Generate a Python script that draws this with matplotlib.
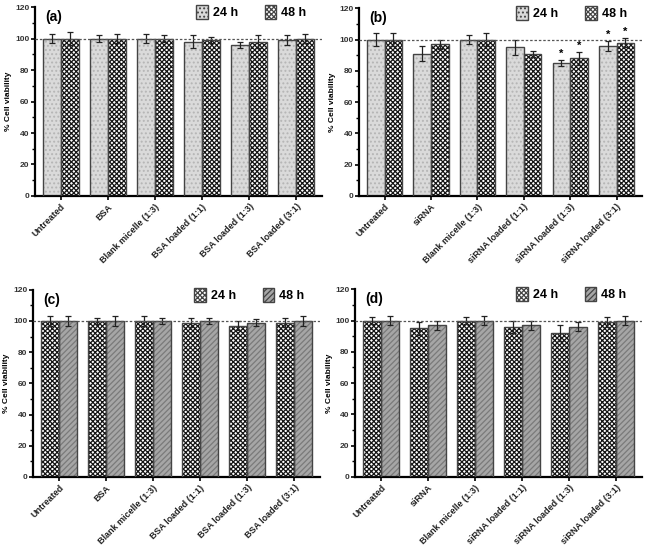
import numpy as np
import matplotlib
matplotlib.use("Agg")
import matplotlib.pyplot as plt
from matplotlib.patches import Patch
from matplotlib.ticker import MultipleLocator

plt.rcParams['font.family'] = ['Liberation Sans', 'DejaVu Sans']
plt.rcParams['hatch.linewidth'] = 0.9

# data
labels_bsa = ["Untreated", "BSA", "Blank micelle (1:3)", "BSA loaded (1:1)",
              "BSA loaded (1:3)", "BSA loaded (3:1)"]
labels_sirna = ["Untreated", "siRNA", "Blank micelle (1:3)", "siRNA loaded (1:1)",
                "siRNA loaded (1:3)", "siRNA loaded (3:1)"]

a_24 = [100, 100, 100, 98, 96, 99]
a_24_err = [3, 2, 3, 4, 2, 3]
a_48 = [100, 100, 100, 99, 98, 100]
a_48_err = [4, 3, 2, 2, 4, 3]

b_24 = [100, 91, 100, 95, 85, 96]
b_24_err = [4, 5, 3, 5, 2, 3]
b_48 = [100, 97, 100, 91, 88, 98]
b_48_err = [4, 3, 4, 2, 4, 3]
b_star_24 = [False, False, False, False, True, True]
b_star_48 = [False, False, False, False, True, True]

c_24 = [100, 100, 100, 99, 97, 99]
c_24_err = [3, 2, 3, 3, 3, 3]
c_48 = [100, 100, 100, 100, 99, 100]
c_48_err = [3, 3, 2, 2, 2, 3]

d_24 = [100, 95, 100, 96, 92, 99]
d_24_err = [2, 4, 2, 4, 5, 3]
d_48 = [100, 97, 100, 97, 96, 100]
d_48_err = [3, 3, 3, 3, 3, 3]

# styles: (facecolor, hatch colour, hatch)
dotted = ('#dadada', '#b5b5b5', '....')
checker = ('#ffffff', '#151515', 'xxxxxxx')
striped = ('#a6a6a6', '#7a7a7a', '//////')

W = 0.38


def draw_bars(ax, x, vals, errs, style):
    fc, hc, h = style
    ax.bar(x, vals, W, color=fc, edgecolor=hc, hatch=h, linewidth=0, zorder=2)
    ax.bar(x, vals, W, fill=False, edgecolor='#444444', linewidth=1.0, zorder=3)
    ax.errorbar(x, vals, yerr=errs, fmt='none', ecolor='#222222',
                elinewidth=0.9, capsize=2.5, capthick=0.9, zorder=4)


def panel(ax, tag, labels, v24, e24, v48, e48, s24, s48):
    x = np.arange(len(labels))
    draw_bars(ax, x - W / 2, v24, e24, s24)
    draw_bars(ax, x + W / 2, v48, e48, s48)
    ax.axhline(100, color='#555555', linestyle=(0, (2, 1.5)), linewidth=0.9, zorder=5)
    ax.set_xlim(-0.55, 5.55)
    ax.set_ylim(0, 120)
    ax.yaxis.set_major_locator(MultipleLocator(20))
    ax.yaxis.set_minor_locator(MultipleLocator(10))
    ax.set_xticks(x)
    ax.set_xticklabels(labels, rotation=45, ha='right', rotation_mode='anchor',
                       fontsize=6.5, fontweight='bold', color='#222222')
    for t in ax.get_yticklabels():
        t.set_fontsize(6)
        t.set_fontweight('bold')
        t.set_color('#333333')
    ax.set_ylabel('% Cell viability', fontsize=6, fontweight='bold', labelpad=2)
    for s in ['top', 'right']:
        ax.spines[s].set_visible(False)
    for s in ['left', 'bottom']:
        ax.spines[s].set_linewidth(1.6)
    ax.tick_params(axis='both', which='major', length=3, width=1.2, pad=1)
    ax.tick_params(axis='y', which='minor', length=2, width=1.0)
    ax.tick_params(axis='x', length=3, pad=1.5)
    ax.text(0.035, 0.985, tag, transform=ax.transAxes, fontsize=10,
            fontweight='bold', va='top', ha='left')
    handles = [Patch(facecolor=s24[0], edgecolor='#444444', hatch=s24[2], label='24 h'),
               Patch(facecolor=s48[0], edgecolor='#444444', hatch=s48[2], label='48 h')]
    ax.legend(handles=handles, ncol=2, frameon=False, loc='upper right',
              bbox_to_anchor=(0.985, 1.07), handlelength=0.9, handleheight=1.3,
              handletextpad=0.4, columnspacing=2.2,
              prop={'weight': 'bold', 'size': 9})
    return x


fig = plt.figure(figsize=(6.48, 5.52), dpi=100)
ax_a = fig.add_axes([0.054, 0.645, 0.443, 0.342])
ax_b = fig.add_axes([0.554, 0.645, 0.437, 0.340])
ax_c = fig.add_axes([0.051, 0.136, 0.443, 0.339])
ax_d = fig.add_axes([0.548, 0.136, 0.443, 0.340])

panel(ax_a, '(a)', labels_bsa, a_24, a_24_err, a_48, a_48_err, dotted, checker)
xb = panel(ax_b, '(b)', labels_sirna, b_24, b_24_err, b_48, b_48_err, dotted, checker)
panel(ax_c, '(c)', labels_bsa, c_24, c_24_err, c_48, c_48_err, checker, striped)
panel(ax_d, '(d)', labels_sirna, d_24, d_24_err, d_48, d_48_err, checker, striped)

# significance marks in (b)
for i in range(len(xb)):
    if b_star_24[i]:
        ax_b.text(xb[i] - W / 2, b_24[i] + b_24_err[i] + 0.5, '*', ha='center',
                  va='bottom', fontsize=8, fontweight='bold')
    if b_star_48[i]:
        ax_b.text(xb[i] + W / 2, b_48[i] + b_48_err[i] + 0.5, '*', ha='center',
                  va='bottom', fontsize=8, fontweight='bold')

fig.savefig('out.png', dpi=100)
